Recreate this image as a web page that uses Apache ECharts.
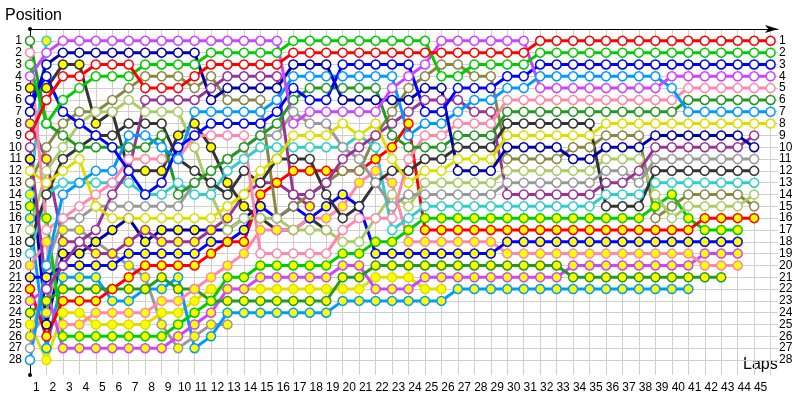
<!DOCTYPE html>
<html><head><meta charset="utf-8">
<script src="https://cdn.jsdelivr.net/npm/echarts@6/dist/echarts.min.js"></script>
<style>html,body{margin:0;padding:0;background:#fff}#c{width:800px;height:400px}</style>
</head><body><div id="c"></div>
<script>
// ---- data ----
const laps = [0,1,2,3,4,5,6,7,8,9,10,11,12,13,14,15,16,17,18,19,20,21,22,23,24,25,26,27,28,29,30,31,32,33,34,35,36,37,38,39,40,41,42,43,44,45];
const lapLabels = ['1','2','3','4','5','6','7','8','9','10','11','12','13','14','15','16','17','18','19','20','21','22','23','24','25','26','27','28','29','30','31','32','33','34','35','36','37','38','39','40','41','42','43','44','45'];
const positionLabels = ['1','2','3','4','5','6','7','8','9','10','11','12','13','14','15','16','17','18','19','20','21','22','23','24','25','26','27','28'];

const redW = [9,6,4,4,3,3,3,5,5,5,4,3,3,3,3,3,2,2,2,2,2,2,2,2,2,2,2,2,2,2,2,1,1,1,1,1,1,1,1,1,1,1,1,1,1,1];
const greenW = [3,8,6,5,4,4,4,3,3,3,3,2,2,2,2,2,1,1,1,1,1,1,1,1,1,4,4,3,3,3,3,2,2,2,2,2,2,2,2,2,2,2,2,2,2,2];
const magentaW = [4,2,1,1,1,1,1,1,1,1,1,1,1,1,1,1,8,7,7,7,7,7,5,4,3,1,1,1,1,1,1,5,5,5,5,5,5,5,5,4,4,4,4,4,4,4];
const blueW = [6,4,7,8,9,10,12,14,13,10,9,8,8,8,8,7,5,6,6,3,3,3,3,3,7,7,5,5,5,4,4,3,3,3,3,3,3,3,3,3,3,3,3,3,3,3];
const navyW = [7,3,2,2,2,2,2,2,2,2,2,6,5,5,5,5,3,3,3,6,6,6,6,6,5,5,12,12,12,10,10,10,10,11,11,10,10,10,9,9,9,9,9,9,10,null];
const lightblueW = [28,20,14,13,12,12,9,9,10,11,7,7,7,7,7,6,4,4,4,4,4,4,4,9,8,8,7,6,6,5,5,4,4,4,4,4,4,4,4,5,7,7,7,7,7,7];
const darkgreenW = [1,8,9,10,10,10,10,10,9,14,13,12,11,10,9,8,6,5,5,5,5,5,9,10,10,10,9,9,9,7,7,7,7,7,7,7,7,7,7,7,6,6,6,6,6,6];
const pinkW = [2,17,16,15,14,13,11,11,11,11,9,9,9,9,19,19,19,19,19,17,16,16,16,11,9,9,8,8,8,6,6,6,6,6,6,6,6,6,6,6,5,5,5,5,5,5];
const yellowW = [12,13,12,11,15,16,16,16,16,16,16,16,15,14,12,11,9,9,9,8,9,8,11,13,12,12,11,11,11,9,9,9,9,9,9,8,8,8,8,8,8,8,8,8,8,8];
const purpleW = [10,22,20,18,17,14,12,6,6,6,6,5,4,4,4,4,14,14,13,11,10,9,8,7,6,6,6,7,7,14,14,14,14,14,14,13,13,12,10,10,10,10,10,10,9,null];
const grayW = [27,20,16,16,15,15,15,15,15,15,13,12,11,10,9,9,7,8,8,10,11,13,15,14,14,14,14,14,14,13,13,13,13,13,13,12,12,13,11,11,11,11,11,11,11,null];
const blackW = [18,14,11,10,9,9,8,8,8,11,12,13,14,12,13,11,11,11,14,16,15,13,12,12,11,11,10,10,10,8,8,8,8,8,8,15,15,15,12,12,12,12,12,12,12,null];
const cyanW = [19,14,13,13,13,13,13,14,14,13,14,14,12,11,10,10,10,10,10,10,9,10,17,16,15,15,15,15,15,15,15,15,15,15,15,14,14,14,13,13,13,13,13,13,13,null];
const lightgreenW = [17,12,10,8,7,7,6,7,7,7,10,14,17,16,16,16,17,17,17,18,18,16,14,15,13,13,13,13,13,12,12,12,12,12,12,11,11,11,14,16,15,15,15,15,14,null];
const oliveW = [13,10,8,7,7,6,5,4,4,4,5,4,6,6,6,16,15,14,13,12,12,9,7,5,4,3,3,4,4,11,11,11,11,10,10,9,9,9,16,15,14,14,14,14,15,null];

const redY = [22,26,23,23,23,22,21,20,20,20,20,19,18,18,14,13,12,12,12,12,12,11,10,8,17,17,17,17,17,17,17,17,17,17,17,17,17,17,17,17,17,16,16,16,16,null];
const greenY = [15,16,26,26,26,26,26,26,26,25,24,23,21,21,20,20,20,20,20,19,19,18,18,17,16,16,16,16,16,16,16,16,16,16,16,16,16,16,15,14,16,17,17,17,null,null];
const blueY = [21,21,20,20,20,20,19,19,19,19,19,18,18,17,15,16,15,16,15,14,15,19,19,19,19,19,19,19,19,18,18,18,18,18,18,18,18,18,18,18,18,18,18,18,null,null];
const pinkY = [20,18,25,25,24,24,24,24,23,23,22,21,20,19,17,17,17,16,16,15,13,12,13,18,18,18,18,18,18,19,19,19,19,19,19,19,19,19,19,19,19,20,20,20,null,null];
const darkgreenY = [24,23,22,22,22,22,22,22,21,22,22,23,23,23,23,23,23,23,23,21,21,20,20,20,20,20,20,20,20,20,20,20,20,21,21,21,21,21,21,21,21,21,21,null,null,null];
const magentaY = [23,22,27,27,27,27,27,27,27,26,25,24,22,22,21,21,21,21,21,20,20,22,22,22,21,21,21,21,21,21,21,21,21,20,20,20,20,20,20,20,20,19,19,19,null,null];
const lightblueY = [16,27,21,21,21,23,23,22,22,21,27,26,24,24,24,24,24,24,24,23,23,23,23,23,23,23,22,22,22,22,22,22,22,22,22,22,22,22,22,22,22,null,null,null,null,null];
const yellowY = [25,28,24,24,25,25,25,25,24,24,23,22,22,22,22,22,22,22,22,22,22,21,21,21,22,22,null,null,null,null,null,null,null,null,null,null,null,null,null,null,null,null,null,null,null,null];
const blackY = [5,5,3,3,8,7,12,12,12,9,8,10,13,15,16,17,17,16,17,null,null,null,null,null,null,null,null,null,null,null,null,null,null,null,null,null,null,null,null,null,null,null,null,null,null,null];
const purpleY = [8,11,18,18,19,19,18,17,18,18,18,17,16,14,13,13,14,15,null,null,null,null,null,null,null,null,null,null,null,null,null,null,null,null,null,null,null,null,null,null,null,null,null,null,null,null];
const navyY = [11,25,19,19,18,17,16,18,17,17,17,17,17,16,15,null,null,null,null,null,null,null,null,null,null,null,null,null,null,null,null,null,null,null,null,null,null,null,null,null,null,null,null,null,null,null];
const cyanY = [14,1,null,null,null,null,null,null,null,null,null,null,null,null,null,null,null,null,null,null,null,null,null,null,null,null,null,null,null,null,null,null,null,null,null,null,null,null,null,null,null,null,null,null,null,null];
const grayY = [26,24,17,17,18,19,20,21,25,27,26,25,25,null,null,null,null,null,null,null,null,null,null,null,null,null,null,null,null,null,null,null,null,null,null,null,null,null,null,null,null,null,null,null,null,null];

// ---- styles ----
const WHITE = '#ffffff', YEL = '#ffff00';
const seriesDefs = [
  ['grayY', grayY, '#999999', YEL], ['cyanY', cyanY, '#33cccc', YEL], ['navyY', navyY, '#0000aa', YEL],
  ['purpleY', purpleY, '#993399', YEL], ['blackY', blackY, '#333333', YEL], ['yellowY', yellowY, '#dddd00', YEL],
  ['lightblueY', lightblueY, '#0099ff', YEL], ['magentaY', magentaY, '#cc44ff', YEL], ['darkgreenY', darkgreenY, '#229922', YEL],
  ['pinkY', pinkY, '#ff88aa', YEL], ['blueY', blueY, '#0000ff', YEL], ['greenY', greenY, '#00cc00', YEL], ['redY', redY, '#ff0000', YEL],
  ['oliveW', oliveW, '#888844', WHITE], ['lightgreenW', lightgreenW, '#aacc66', WHITE], ['cyanW', cyanW, '#33cccc', WHITE],
  ['blackW', blackW, '#333333', WHITE], ['grayW', grayW, '#999999', WHITE], ['purpleW', purpleW, '#993399', WHITE],
  ['yellowW', yellowW, '#dddd00', WHITE], ['pinkW', pinkW, '#ff88aa', WHITE], ['darkgreenW', darkgreenW, '#229922', WHITE],
  ['lightblueW', lightblueW, '#0099ff', WHITE], ['navyW', navyW, '#0000aa', WHITE], ['blueW', blueW, '#0000ff', WHITE],
  ['magentaW', magentaW, '#cc44ff', WHITE], ['greenW', greenW, '#00cc00', WHITE], ['redW', redW, '#ff0000', WHITE]
];

const GRID = '#cfcfcf';
const FONT = 'Liberation Sans';
const xColors = laps.map(() => GRID).concat(['rgba(0,0,0,0)']);
const yColors = ['rgba(0,0,0,0)'].concat(positionLabels.map(() => GRID), ['rgba(0,0,0,0)', 'rgba(0,0,0,0)']);

const yLabelFmt = v => (Number.isInteger(v) && v >= 1 && v <= positionLabels.length) ? positionLabels[v - 1] : '';

const chart = echarts.init(document.getElementById('c'), null, {renderer: 'canvas'});
chart.setOption({
  animation: false,
  backgroundColor: '#ffffff',
  grid: {left: 30, right: 22, top: 29, bottom: 25, containLabel: false},
  xAxis: {
    type: 'value', min: 0, max: 45.45, interval: 1,
    axisLine: {show: true, lineStyle: {color: '#000', width: 1}, symbol: ['none', 'arrow'], symbolSize: [6, 13]},
    axisTick: {show: false},
    axisLabel: {
      color: '#000', fontFamily: FONT, fontSize: 12, margin: 7, align: 'center', padding: [0, 20, 0, 0],
      showMaxLabel: false,
      formatter: v => (Number.isInteger(v) && v >= 1 && v <= lapLabels.length) ? lapLabels[v - 1] : ''
    },
    splitLine: {show: true, lineStyle: {color: xColors, width: 1}}
  },
  yAxis: [{
    type: 'value', inverse: true, min: 0, max: 29.27, interval: 1, position: 'left',
    axisLine: {show: true, lineStyle: {color: '#000', width: 1}, symbol: ['circle', 'circle'], symbolSize: [4, 4]},
    axisTick: {show: false},
    axisLabel: {color: '#000', fontFamily: FONT, fontSize: 12, margin: 8, showMaxLabel: false, showMinLabel: false, formatter: yLabelFmt},
    splitLine: {show: true, lineStyle: {color: yColors, width: 1}}
  }, {
    type: 'value', inverse: true, min: 0, max: 29.27, interval: 1, position: 'right',
    axisLine: {show: false}, axisTick: {show: false},
    axisLabel: {color: '#000', fontFamily: FONT, fontSize: 12, margin: 1, showMaxLabel: false, showMinLabel: false, formatter: yLabelFmt},
    splitLine: {show: false}
  }],
  graphic: [
    {type: 'text', left: 5, top: 8, style: {text: 'Position', font: '16px "Liberation Sans"', fill: '#000'}},
    {type: 'text', left: 743, top: 357, style: {text: 'Laps', font: '16px "Liberation Sans"', fill: '#000'}}
  ],
  series: seriesDefs.map(([name, arr, color, fill]) => ({
    name, type: 'line', xAxisIndex: 0, yAxisIndex: 0,
    data: laps.map((lap, i) => [lap, arr[i]]).filter(p => p[1] != null),
    symbol: 'circle', symbolSize: 9, showAllSymbol: true,
    lineStyle: {color, width: 3},
    itemStyle: {color: fill, borderColor: color, borderWidth: 1.5},
    emphasis: {disabled: true},
    silent: true
  }))
});
</script></body></html>
